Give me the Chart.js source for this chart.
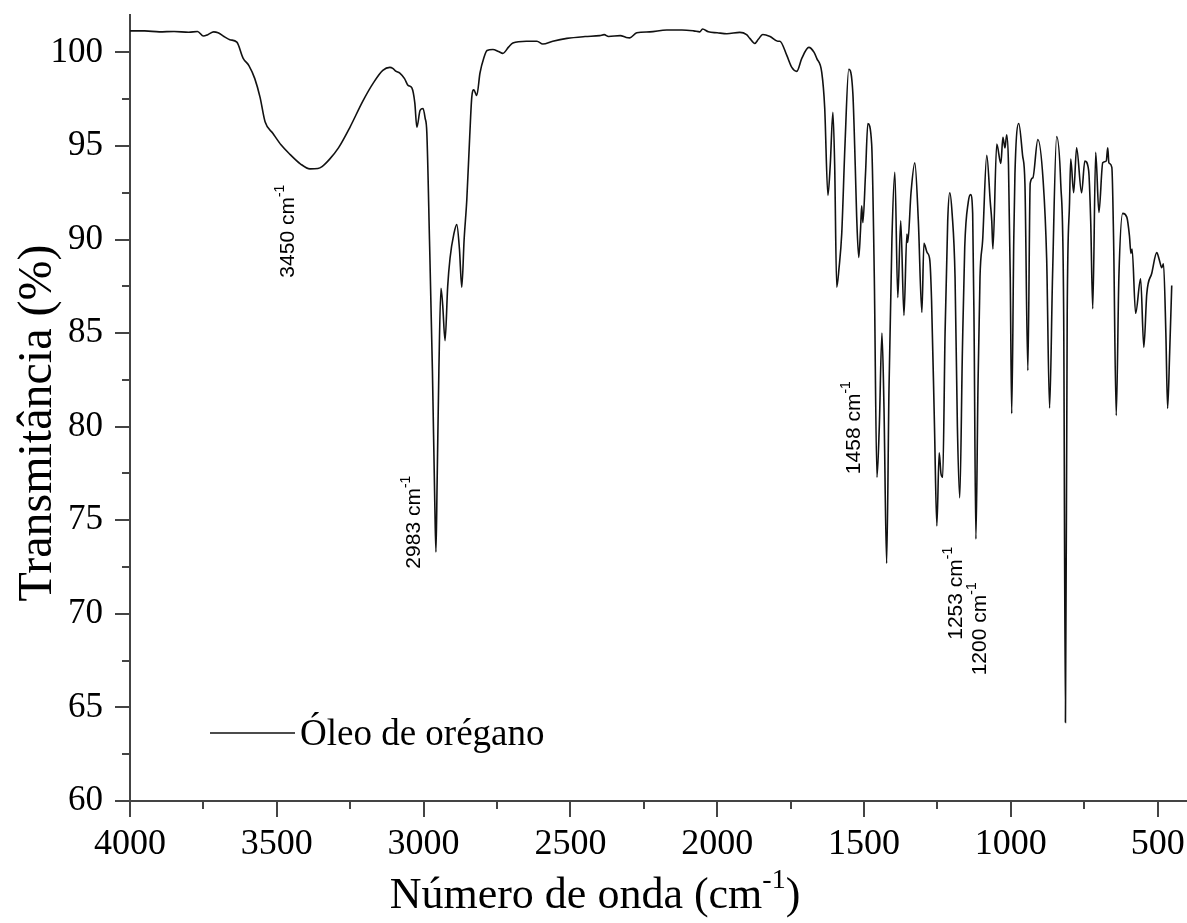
<!DOCTYPE html>
<html>
<head>
<meta charset="utf-8">
<script src="https://cdn.jsdelivr.net/npm/chart.js@4.4.0/dist/chart.umd.min.js"></script>
<style>
  html, body { margin: 0; padding: 0; background: #fff; }
  #wrap { width: 1187px; height: 923px; }
</style>
</head>
<body>
<div id="wrap"><canvas id="c"></canvas></div>
<script>
// FTIR spectrum (cm-1, % transmittance)
const wavenumbers = [
  4000, 3950, 3900, 3850, 3800, 3770, 3750, 3735, 3715, 3700, 3680, 3660, 3636, 3615, 3595, 3575,
  3557, 3540, 3513, 3485, 3455, 3420, 3387, 3360, 3346, 3320, 3290, 3251, 3207, 3170, 3139, 3115,
  3105, 3095, 3081, 3065, 3053, 3040, 3030, 3023, 3012, 3002, 2995, 2989, 2980, 2970, 2962, 2958,
  2954, 2948, 2941, 2935, 2927, 2918, 2910, 2897, 2887, 2878, 2870, 2862, 2853, 2843, 2836, 2829,
  2819, 2808, 2795, 2784, 2764, 2745, 2730, 2710, 2696, 2650, 2614, 2594, 2560, 2512, 2450, 2400,
  2385, 2370, 2330, 2310, 2298, 2274, 2230, 2172, 2120, 2080, 2059, 2050, 2030, 2000, 1967, 1923,
  1900, 1889, 1872, 1860, 1845, 1820, 1794, 1787, 1763, 1746, 1729, 1712, 1688, 1670, 1661, 1644,
  1634, 1623, 1615, 1606, 1600, 1593, 1585, 1576, 1565, 1552, 1538, 1530, 1525, 1518, 1512, 1508,
  1504, 1495, 1487, 1474, 1465, 1456, 1448, 1439, 1432, 1423, 1415, 1405, 1395, 1385, 1375, 1364,
  1354, 1351, 1340, 1327, 1315, 1303, 1296, 1285, 1276, 1270, 1260, 1252, 1244, 1238, 1232, 1224,
  1215, 1208, 1200, 1190, 1182, 1174, 1165, 1157, 1145, 1137, 1130, 1125, 1119, 1112, 1105, 1096,
  1082, 1070, 1065, 1061, 1048, 1034, 1027, 1020, 1014, 1008, 1002, 997, 990, 986, 973, 960,
  952, 942, 934, 925, 908, 890, 878, 868, 858, 844, 830, 820, 814, 808, 800, 796,
  786, 776, 759, 748, 735, 728, 721, 711, 700, 687, 675, 670, 666, 656, 650, 641,
  632, 619, 605, 596, 591, 587, 575, 558, 547, 537, 520, 503, 494, 486, 480, 472,
  466, 459, 452
];
const transmittance = [
  101.15, 101.15, 101.1, 101.12, 101.08, 101.12, 100.88, 100.95, 101.1, 101.05, 100.85, 100.68, 100.55, 99.7, 99.3, 98.6,
  97.6, 96.3, 95.67, 95.05, 94.55, 94.05, 93.78, 93.8, 93.9, 94.3, 94.9, 96.0, 97.4, 98.4, 99.04, 99.2,
  99.15, 99.0, 98.9, 98.6, 98.24, 98.1, 97.3, 96.0, 96.9, 97.0, 96.5, 95.7, 90.0, 83.0, 76.0, 73.3,
  77.0, 83.0, 87.4, 86.5, 84.6, 87.5, 89.0, 90.3, 90.8, 89.5, 87.45, 90.0, 92.1, 95.5, 97.6, 98.0,
  97.7, 98.9, 99.7, 100.1, 100.16, 100.05, 99.95, 100.3, 100.5, 100.6, 100.6, 100.45, 100.6, 100.75, 100.85, 100.9,
  100.95, 100.85, 100.9, 100.8, 100.78, 101.05, 101.1, 101.2, 101.2, 101.15, 101.1, 101.25, 101.1, 101.05, 101.0, 101.07,
  100.95, 100.75, 100.48, 100.7, 100.96, 100.85, 100.6, 100.6, 99.84, 99.2, 98.99, 99.68, 100.27, 100.0, 99.68, 98.93,
  97.06, 92.36, 94.0, 96.8, 94.0, 87.45, 88.5, 90.3, 95.0, 99.1, 97.8, 94.0, 91.2, 89.05, 90.5, 91.8,
  90.9, 93.5, 96.2, 95.1, 88.0, 77.3, 80.0, 85.0, 81.0, 72.7, 82.0, 90.0, 93.6, 86.9, 91.0, 85.95,
  90.3, 89.85, 92.5, 94.1, 91.0, 86.1, 89.8, 89.3, 88.9, 86.75, 80.0, 74.7, 78.6, 77.5, 77.3, 85.0,
  91.0, 92.5, 91.4, 88.0, 80.0, 76.2, 84.0, 89.6, 92.0, 92.4, 91.4, 85.0, 74.0, 82.0, 88.0, 89.96,
  94.5, 92.0, 91.0, 89.5, 95.1, 94.07, 95.46, 94.9, 95.6, 94.0, 88.0, 80.7, 90.0, 93.5, 96.2, 94.5,
  93.0, 83.0, 93.0, 93.3, 95.35, 93.16, 89.0, 81.0, 88.0, 95.5, 93.0, 86.0, 64.2, 86.0, 92.0, 94.3,
  92.5, 94.9, 92.5, 94.2, 93.7, 91.0, 86.3, 94.66, 91.45, 94.1, 94.2, 94.9, 94.1, 93.86, 90.0, 80.6,
  88.0, 91.4, 91.2, 90.2, 89.26, 89.5, 86.06, 87.9, 84.24, 87.1, 88.2, 89.3, 88.9, 88.5, 88.7, 85.0,
  80.98, 84.0, 87.55
];

const xTicks = [4000, 3500, 3000, 2500, 2000, 1500, 1000, 500];
const xMinorTicks = [3750, 3250, 2750, 2250, 1750, 1250, 750];
const yTicks = [60, 65, 70, 75, 80, 85, 90, 95, 100];
const yMinorTicks = [62.5, 67.5, 72.5, 77.5, 82.5, 87.5, 92.5, 97.5];

const seriesName = "Óleo de orégano";
const peakLabels = ["3450", "2983", "1458", "1253", "1200"];
const peakLabelX = [3460, 3033, 1535, 1187, 1106];
const peakLabelY = [90.45, 74.9, 79.95, 71.1, 69.2];

const SERIF = "'Liberation Serif', 'Times New Roman', serif";
const SANS = "'Liberation Sans', Arial, sans-serif";
const AXIS_COLOR = "#444";

// draws what Chart.js has no option for: minor ticks, titles with superscripts, legend, peak notes
const decor = {
  id: "decor",
  afterDraw(chart) {
    const { ctx, chartArea: area, scales: { x, y } } = chart;
    ctx.save();

    ctx.strokeStyle = AXIS_COLOR;
    ctx.lineWidth = 2;
    ctx.beginPath();
    xMinorTicks.forEach((v) => {
      const px = Math.round(x.getPixelForValue(v));
      ctx.moveTo(px, area.bottom);
      ctx.lineTo(px, area.bottom + 8);
    });
    yMinorTicks.forEach((v) => {
      const py = Math.round(y.getPixelForValue(v));
      ctx.moveTo(area.left, py);
      ctx.lineTo(area.left - 8, py);
    });
    ctx.stroke();

    ctx.fillStyle = "#000";
    ctx.textBaseline = "alphabetic";

    // x title with superscript
    const xMain = "Número de onda (cm";
    ctx.font = `44px ${SERIF}`;
    const w1 = ctx.measureText(xMain).width;
    ctx.font = `28px ${SERIF}`;
    const w2 = ctx.measureText("-1").width;
    ctx.font = `44px ${SERIF}`;
    const w3 = ctx.measureText(")").width;
    const tx = 595 - (w1 + w2 + w3) / 2;
    const ty = 908;
    ctx.textAlign = "left";
    ctx.fillText(xMain, tx, ty);
    ctx.font = `28px ${SERIF}`;
    ctx.fillText("-1", tx + w1, ty - 20);
    ctx.font = `44px ${SERIF}`;
    ctx.fillText(")", tx + w1 + w2, ty);

    // y title
    ctx.save();
    ctx.translate(51, 423);
    ctx.rotate(-Math.PI / 2);
    ctx.textAlign = "center";
    ctx.font = `48px ${SERIF}`;
    ctx.fillText("Transmitância (%)", 0, 0);
    ctx.restore();

    // legend
    ctx.beginPath();
    ctx.strokeStyle = "#111";
    ctx.lineWidth = 1.5;
    ctx.moveTo(210, 733);
    ctx.lineTo(295, 733);
    ctx.stroke();
    ctx.textAlign = "left";
    ctx.textBaseline = "middle";
    ctx.font = `37px ${SERIF}`;
    ctx.fillText(seriesName, 300, 735);

    // rotated peak notes
    peakLabels.forEach((lab, i) => {
      const px = x.getPixelForValue(peakLabelX[i]);
      const py = y.getPixelForValue(peakLabelY[i]);
      ctx.save();
      ctx.translate(px, py);
      ctx.rotate(-Math.PI / 2);
      ctx.font = `21px ${SANS}`;
      const a = ctx.measureText(lab + " cm").width;
      ctx.font = `14px ${SANS}`;
      const b = ctx.measureText("-1").width;
      const sx = -(a + b) / 2;
      ctx.textAlign = "left";
      ctx.textBaseline = "middle";
      ctx.font = `21px ${SANS}`;
      ctx.fillText(lab + " cm", sx, 0);
      ctx.font = `14px ${SANS}`;
      ctx.fillText("-1", sx + a, -8);
      ctx.restore();
    });

    ctx.restore();
  }
};

new Chart(document.getElementById("c"), {
  type: "line",
  data: {
    datasets: [{
      label: seriesName,
      data: wavenumbers.map((w, i) => ({ x: w, y: transmittance[i] })),
      borderColor: "#111",
      borderWidth: 1.6,
      pointRadius: 0,
      fill: false,
      cubicInterpolationMode: "monotone"
    }]
  },
  options: {
    responsive: true,
    maintainAspectRatio: false,
    animation: false,
    layout: { padding: { top: 15, right: 0, left: 0, bottom: 0 } },
    plugins: { legend: { display: false }, tooltip: { enabled: false } },
    scales: {
      x: {
        type: "linear",
        reverse: true,
        min: 400,
        max: 4000,
        afterBuildTicks: (s) => { s.ticks = xTicks.map((v) => ({ value: v })); },
        afterFit: (s) => { s.height = 122; s.paddingLeft = 0; s.paddingRight = 0; },
        grid: { drawOnChartArea: false, drawTicks: true, tickLength: 16, color: AXIS_COLOR, lineWidth: 2 },
        border: { display: true, color: AXIS_COLOR, width: 2 },
        ticks: {
          color: "#000", font: { family: SERIF, size: 36 }, padding: 6, maxRotation: 0, autoSkip: false,
          callback: (v) => String(v)
        }
      },
      y: {
        min: 60,
        max: 102,
        afterBuildTicks: (s) => { s.ticks = yTicks.map((v) => ({ value: v })); },
        afterFit: (s) => { s.width = 130; s.paddingTop = 0; s.paddingBottom = 0; },
        grid: { drawOnChartArea: false, drawTicks: true, tickLength: 15, color: AXIS_COLOR, lineWidth: 2 },
        border: { display: true, color: AXIS_COLOR, width: 2 },
        ticks: { color: "#000", font: { family: SERIF, size: 35 }, padding: 12, callback: (v) => String(v) }
      }
    }
  },
  plugins: [decor]
});
</script>
</body>
</html>
